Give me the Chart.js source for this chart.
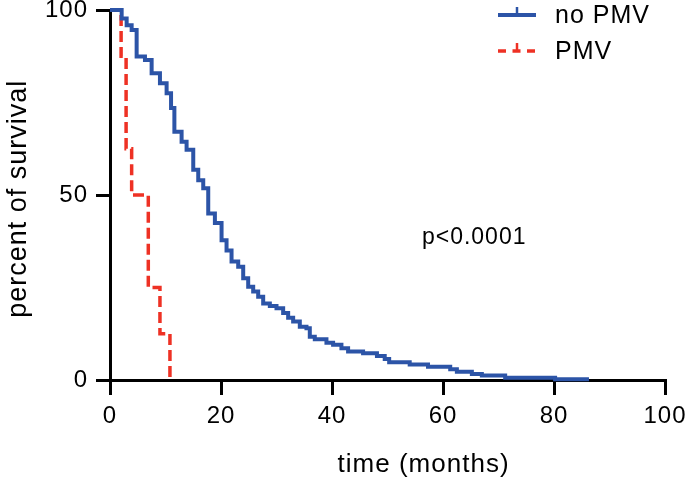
<!DOCTYPE html>
<html>
<head>
<meta charset="utf-8">
<script src="https://cdn.jsdelivr.net/npm/chart.js@4/dist/chart.umd.min.js"></script>
<style>
  html, body { margin: 0; padding: 0; background: #fff; }
</style>
</head>
<body>
<canvas id="km" width="689" height="480"></canvas>
<script>
// ── Data ──────────────────────────────────────────────────
const SERIES  = ['no PMV', 'PMV'];
const X_TICKS = [0, 20, 40, 60, 80, 100];
const Y_TICKS = [0, 50, 100];
const X_TITLE = 'time (months)';
const Y_TITLE = 'percent of survival';
const P_TEXT  = 'p<0.0001';

// no PMV: time of each step (months) and survival after it (%)
const noPmvT = [0, 2.1, 3.0, 3.9, 4.8, 6.3, 7.5, 9.0, 10.2, 11.0,
                11.6, 12.9, 13.8, 15.0, 15.9, 16.8, 17.7, 18.9, 20.1, 21.0,
                21.9, 23.1, 24.0, 24.9, 25.8, 26.7, 27.6, 28.8, 30.0, 31.2,
                32.1, 33.0, 34.2, 35.4, 36.0, 36.9, 39.0, 40.2, 41.7, 42.9,
                45.6, 48.1, 49.5, 50.3, 54.0, 57.3, 61.3, 62.5, 65.2, 67.0,
                71.2, 80.2, 86.3];
const noPmvS = [100, 97.7, 95.9, 94.6, 87.4, 86.5, 82.9, 80.2, 77.5, 73.5,
                67.1, 64.4, 62.2, 56.8, 54.0, 51.8, 45.0, 42.4, 37.8, 35.0,
                32.0, 30.6, 27.5, 25.2, 23.9, 22.5, 20.7, 20.0, 19.4, 18.1,
                16.8, 15.8, 14.4, 14.0, 11.7, 11.0, 10.1, 9.5, 8.6, 7.7,
                7.2, 6.5, 5.7, 4.8, 4.2, 3.6, 2.9, 2.2, 1.6, 1.2,
                0.6, 0.2, 0.2];

// PMV
const pmvT = [0, 2.0, 2.9, 3.9, 6.9, 9.0, 10.8];
const pmvS = [100, 87.5, 62.5, 50, 25, 12.5, 0];

// ── Style ─────────────────────────────────────────────────
const BLUE = '#2c54a7';
const RED  = '#ee3124';
const FONT = '"Liberation Sans", Arial, Helvetica, sans-serif';

const toPoints = (t, s) => t.map((v, i) => ({ x: v, y: s[i] }));

// ── Titles, p-value and legend drawn onto the chart ───────
const extras = {
  id: 'extras',
  beforeDraw(chart) { chart.ctx.letterSpacing = '1px'; },
  afterDraw(chart) {
    const { ctx, scales: { x, y } } = chart;
    ctx.save();
    ctx.fillStyle = '#000';

    // x title
    ctx.font = `26px ${FONT}`;
    ctx.textAlign = 'center';
    ctx.textBaseline = 'alphabetic';
    ctx.fillText(X_TITLE, x.getPixelForValue(56.5), 472);

    // y title
    ctx.save();
    ctx.font = `27px ${FONT}`;
    ctx.translate(19, y.getPixelForValue(49));
    ctx.rotate(-Math.PI / 2);
    ctx.textBaseline = 'middle';
    ctx.fillText(Y_TITLE, 0, 0);
    ctx.restore();

    // p-value
    ctx.font = `23px ${FONT}`;
    ctx.textAlign = 'left';
    ctx.textBaseline = 'middle';
    ctx.fillText(P_TEXT, x.getPixelForValue(56.2), y.getPixelForValue(38.6));

    // legend
    const lx = 498, lw = 38, rowY = [15, 51];
    chart.data.datasets.forEach((ds, i) => {
      const ly = rowY[i];
      ctx.strokeStyle = ds.borderColor;
      ctx.lineWidth = ds.borderWidth;
      ctx.setLineDash(ds.borderDash ? [8, 6.5] : []);
      ctx.beginPath();
      ctx.moveTo(lx, ly);
      ctx.lineTo(lx + lw, ly);
      ctx.stroke();
      ctx.setLineDash([]);
      ctx.lineWidth = 2.5;
      ctx.beginPath();
      ctx.moveTo(lx + lw / 2, ly);
      ctx.lineTo(lx + lw / 2, ly - 8);
      ctx.stroke();
      ctx.font = `25px ${FONT}`;
      ctx.fillStyle = '#000';
      ctx.fillText(ds.label, 555, ly + 1);
    });
    ctx.restore();
  }
};

const axisCommon = {
  type: 'linear',
  border: { display: true, color: '#000', width: 3 },
};

new Chart(document.getElementById('km'), {
  type: 'line',
  data: {
    datasets: [
      {
        label: SERIES[0],
        data: toPoints(noPmvT, noPmvS),
        borderColor: BLUE,
        borderWidth: 4,
        stepped: 'before',
        pointRadius: 0,
        fill: false,
        clip: false
      },
      {
        label: SERIES[1],
        data: toPoints(pmvT, pmvS),
        borderColor: RED,
        borderWidth: 3.5,
        borderDash: [11, 5],
        borderCapStyle: 'butt',
        stepped: 'before',
        pointRadius: 0,
        fill: false,
        clip: false
      }
    ]
  },
  options: {
    responsive: false,
    animation: false,
    layout: { padding: { top: 10, right: 24, left: 0, bottom: 0 } },
    plugins: { legend: { display: false }, tooltip: { enabled: false } },
    scales: {
      x: {
        ...axisCommon,
        min: X_TICKS[0], max: X_TICKS[X_TICKS.length - 1],
        afterBuildTicks: s => { s.ticks = X_TICKS.map(v => ({ value: v })); },
        ticks: { color: '#000', font: { family: FONT, size: 24 }, padding: 7, maxRotation: 0 },
        grid: { drawOnChartArea: false, drawTicks: true, tickLength: 15, lineWidth: 3, tickWidth: 3, tickColor: '#000' },
        afterFit: s => { s.height = 100; s.paddingLeft = 0; s.paddingRight = 0; }
      },
      y: {
        ...axisCommon,
        min: Y_TICKS[0], max: Y_TICKS[Y_TICKS.length - 1],
        afterBuildTicks: s => { s.ticks = Y_TICKS.map(v => ({ value: v })); },
        ticks: { color: '#000', font: { family: FONT, size: 24 }, padding: 8 },
        grid: { drawOnChartArea: false, drawTicks: true, tickLength: 14, lineWidth: 3, tickWidth: 3, tickColor: '#000' },
        afterFit: s => { s.width = 110; s.paddingTop = 0; s.paddingBottom = 0; }
      }
    }
  },
  plugins: [extras]
});
</script>
</body>
</html>
